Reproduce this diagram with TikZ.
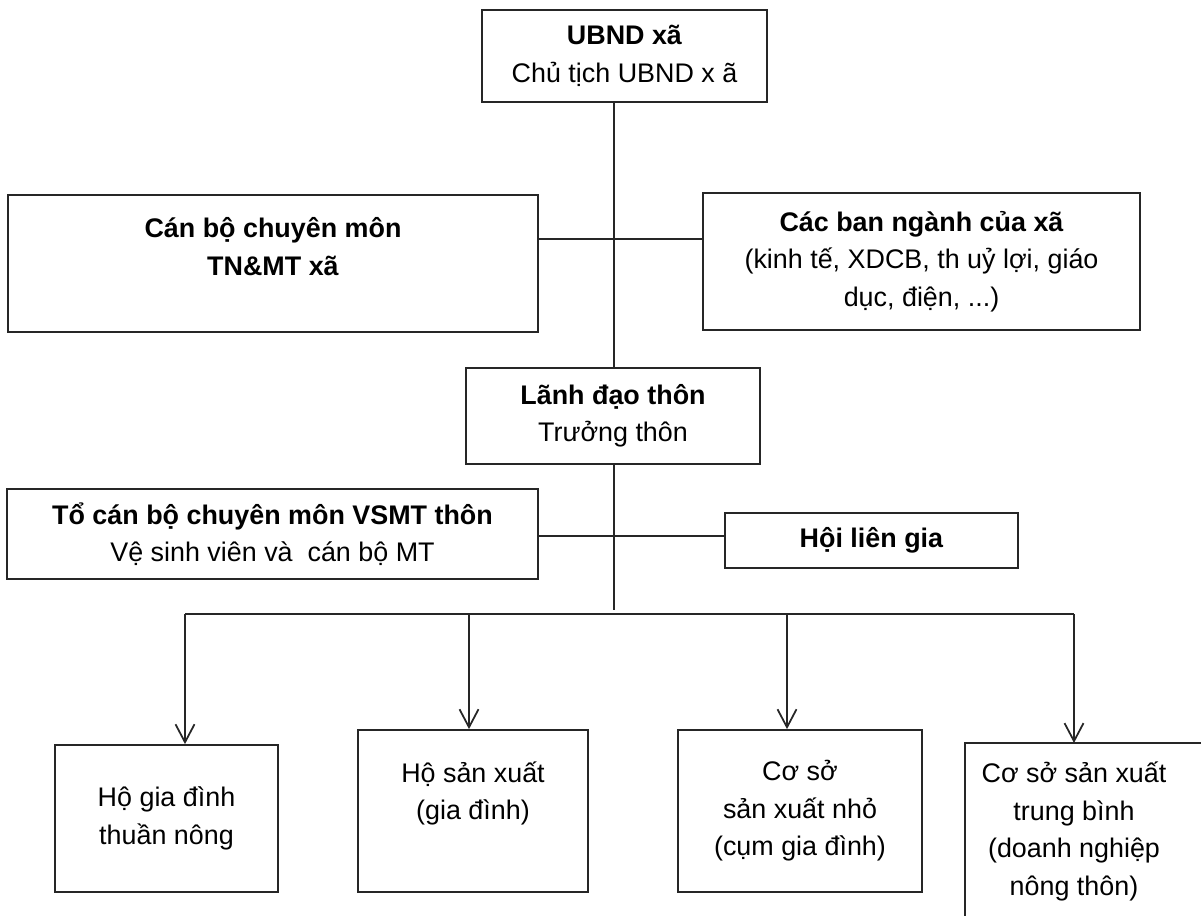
\documentclass[tikz,border=0pt]{standalone}
\usepackage{fontspec}
\setmainfont{Liberation Sans}
\usetikzlibrary{arrows.meta}

\begin{document}
\begin{tikzpicture}
\tikzstyle{box}=[rectangle, draw=black!85, line width=1pt, align=center, inner sep=0pt, font=\fontsize{15.3}{21.3}\selectfont]
\tikzstyle{txt}=[align=center, inner sep=0pt, font=\fontsize{15.3}{21.3}\selectfont]
\tikzstyle{line}=[line width=1pt, draw=black!85]
\tikzstyle{connect}=[-{Straight Barb[length=3.6mm, width=3.8mm]}, line width=1pt, draw=black!85]
\useasboundingbox (0,0) rectangle (24.02,-18.3);
% commune level
\node[box, minimum width=5.7cm, minimum height=1.84cm] (UBND) at (12.49,-1.12) {\textbf{UBND xã}\\Chủ tịch UBND x ã};
\node[box, minimum width=10.6cm, minimum height=2.74cm] (CanBo) at (5.46,-5.27) {};
\node[txt] (CanBoText) at (5.46,-4.93) {\textbf{Cán bộ chuyên môn}\\\textbf{TN\&MT xã}};
\node[box, minimum width=8.74cm, minimum height=2.74cm] (BanNganh) at (18.43,-5.23) {\textbf{Các ban ngành của xã}\\(kinh tế, XDCB, th uỷ lợi, giáo\\dục, điện, ...)};
% village level
\node[box, minimum width=5.88cm, minimum height=1.92cm] (LanhDao) at (12.26,-8.32) {\textbf{Lãnh đạo thôn}\\Trưởng thôn};
\node[box, minimum width=10.62cm, minimum height=1.8cm] (ToVSMT) at (5.45,-10.68) {\textbf{Tổ cán bộ chuyên môn VSMT thôn}\\Vệ sinh viên và~ cán bộ MT};
\node[box, minimum width=5.86cm, minimum height=1.1cm] (HoiLienGia) at (17.43,-10.81) {\textbf{Hội liên gia}};
% households and producers
\node[box, minimum width=4.46cm, minimum height=2.94cm] (HoGiaDinh) at (3.33,-16.37) {Hộ gia đình\\thuần nông};
\node[box, minimum width=4.6cm, minimum height=3.24cm] (HoSanXuat) at (9.46,-16.22) {};
\node[txt] (HoSanXuatText) at (9.46,-15.87) {Hộ sản xuất\\(gia đình)};
\node[box, minimum width=4.88cm, minimum height=3.24cm] (CoSoNho) at (16.0,-16.22) {Cơ sở\\sản xuất nhỏ\\(cụm gia đình)};
\node[box, draw=none, minimum width=5.8cm, minimum height=4.4cm, anchor=north west] (CoSoTB) at (19.3,-14.86) {};
\node[txt] (CoSoTBText) at (21.48,-16.63) {Cơ sở sản xuất\\trung bình\\(doanh nghiệp\\nông thôn)};
\draw[line] (CoSoTB.south west) -- (CoSoTB.north west) -- (CoSoTB.north east);
% trunk and branches
\coordinate (trunk) at (12.28,0);
\coordinate (row) at (0,-4.78);
\coordinate (rowb) at (0,-10.72);
\coordinate (trunkend) at (12.28,-12.2);
\coordinate (b1) at (3.7,-12.28);
\coordinate (b2) at (9.38,-12.28);
\coordinate (b3) at (15.74,-12.28);
\coordinate (b4) at (21.48,-12.28);
\draw[line] (UBND.south -| trunk) -- (LanhDao.north -| trunk);
\draw[line] (CanBo.east |- row) -- (BanNganh.west |- row);
\draw[line] (LanhDao.south -| trunk) -- (trunkend);
\draw[line] (ToVSMT.east |- rowb) -- (HoiLienGia.west |- rowb);
\draw[line] (b1) -- (b4);
\path (b1) edge [connect] (b1 |- HoGiaDinh.north)
  (b2) edge [connect] (b2 |- HoSanXuat.north)
  (b3) edge [connect] (b3 |- CoSoNho.north)
  (b4) edge [connect] (b4 |- CoSoTB.north);
\end{tikzpicture}
\end{document}
